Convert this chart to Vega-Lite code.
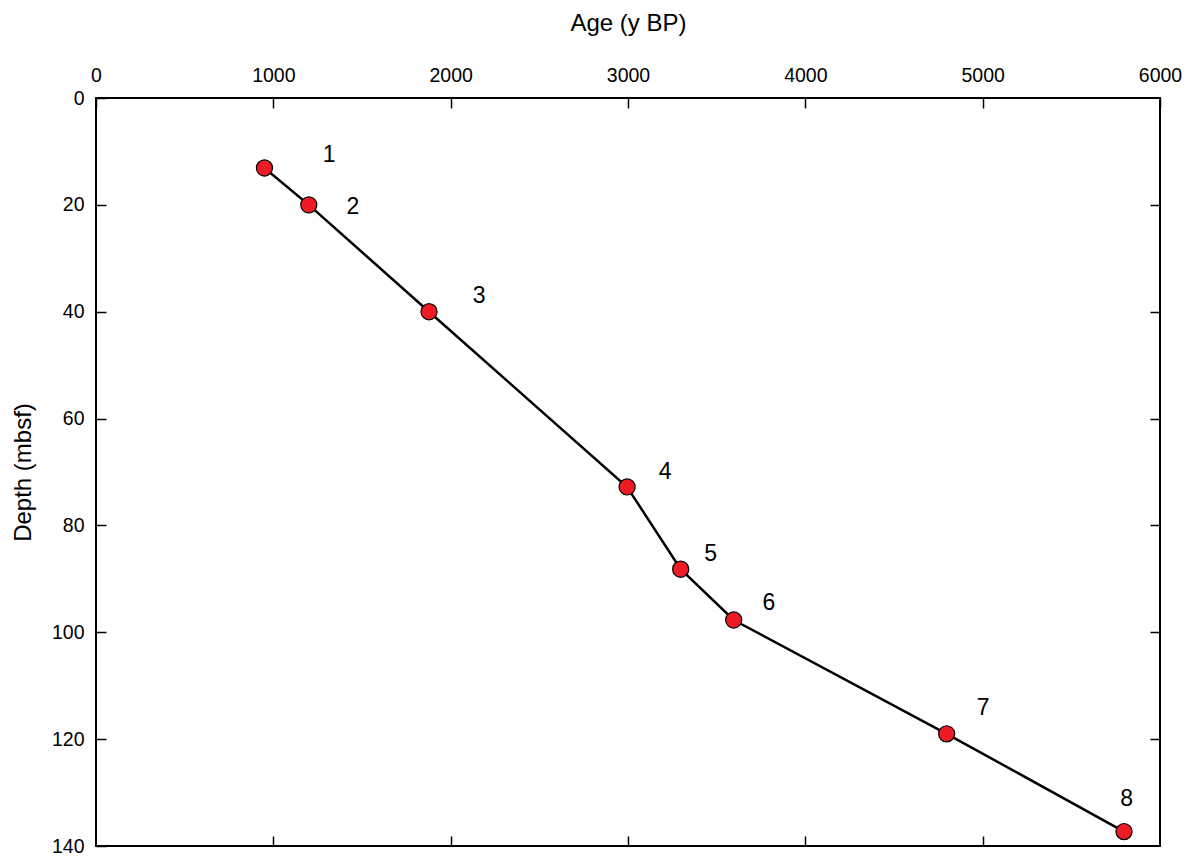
{
  "$schema": "https://vega.github.io/schema/vega-lite/v6.json",
  "width": 1064,
  "height": 748,
  "autosize": {"type": "none"},
  "padding": {"left": 96, "top": 98, "right": 33, "bottom": 10},
  "background": "white",
  "config": {
    "view": {"stroke": "black", "strokeWidth": 2},
    "font": "Liberation Sans",
    "axis": {
      "grid": false,
      "domain": false,
      "tickColor": "black",
      "tickWidth": 1.5,
      "labelColor": "black",
      "titleColor": "black",
      "labelFont": "Liberation Sans",
      "titleFont": "Liberation Sans",
      "labelFontSize": 19.5,
      "titleFontSize": 24,
      "titleFontWeight": "normal"
    }
  },
  "datasets": {
    "samples": [
      {"sample": 1, "age": 950, "depth": 13.1},
      {"sample": 2, "age": 1200, "depth": 20.0},
      {"sample": 3, "age": 1878, "depth": 40.0},
      {"sample": 4, "age": 2995, "depth": 72.8},
      {"sample": 5, "age": 3297, "depth": 88.2},
      {"sample": 6, "age": 3596, "depth": 97.7},
      {"sample": 7, "age": 4797, "depth": 119.0},
      {"sample": 8, "age": 5797, "depth": 137.3}
    ],
    "labels": [
      {"label": "1", "age": 1314, "depth": 10.67},
      {"label": "2", "age": 1449, "depth": 20.4},
      {"label": "3", "age": 2160, "depth": 37.06},
      {"label": "4", "age": 3209, "depth": 70.0},
      {"label": "5", "age": 3466, "depth": 85.35},
      {"label": "6", "age": 3795, "depth": 94.46},
      {"label": "7", "age": 5002, "depth": 114.17},
      {"label": "8", "age": 5812, "depth": 131.2}
    ]
  },
  "layer": [
    {
      "data": {"name": "samples"},
      "mark": {"type": "line", "color": "black", "strokeWidth": 2.5},
      "encoding": {
        "x": {
          "field": "age", "type": "quantitative",
          "scale": {"domain": [0, 6000], "nice": false, "zero": false},
          "axis": {"orient": "top", "title": "Age (y BP)", "format": "d", "values": [0, 1000, 2000, 3000, 4000, 5000, 6000], "tickSize": -10, "labelPadding": 23, "titlePadding": 30, "labelFlush": false, "labelOverlap": false}
        },
        "y": {
          "field": "depth", "type": "quantitative",
          "scale": {"domain": [0, 140], "nice": false, "zero": false, "reverse": true},
          "axis": {"orient": "left", "title": "Depth (mbsf)", "format": "d", "values": [0, 20, 40, 60, 80, 100, 120, 140], "tickSize": -10, "labelPadding": 22, "titlePadding": 16, "labelFlush": false, "labelOverlap": false}
        },
        "order": {"field": "sample", "type": "quantitative"}
      }
    },
    {
      "data": {"name": "samples"},
      "mark": {"type": "point", "filled": true, "fill": "#ED1C24", "stroke": "black", "strokeWidth": 1.2, "size": 260, "opacity": 1, "shape": "circle"},
      "encoding": {
        "x": {
          "field": "age", "type": "quantitative",
          "scale": {"domain": [0, 6000], "nice": false, "zero": false},
          "axis": {"orient": "bottom", "title": null, "labels": false, "values": [1000, 2000, 3000, 4000, 5000], "tickSize": -10}
        },
        "y": {
          "field": "depth", "type": "quantitative",
          "scale": {"domain": [0, 140], "nice": false, "zero": false, "reverse": true},
          "axis": {"orient": "right", "title": null, "labels": false, "values": [20, 40, 60, 80, 100, 120], "tickSize": -10}
        }
      }
    },
    {
      "data": {"name": "labels"},
      "mark": {"type": "text", "fontSize": 23, "font": "Liberation Sans", "color": "black", "align": "center", "baseline": "middle"},
      "encoding": {
        "x": {"field": "age", "type": "quantitative", "axis": null},
        "y": {"field": "depth", "type": "quantitative", "axis": null},
        "text": {"field": "label"}
      }
    }
  ],
  "resolve": {"axis": {"x": "independent", "y": "independent"}}
}
